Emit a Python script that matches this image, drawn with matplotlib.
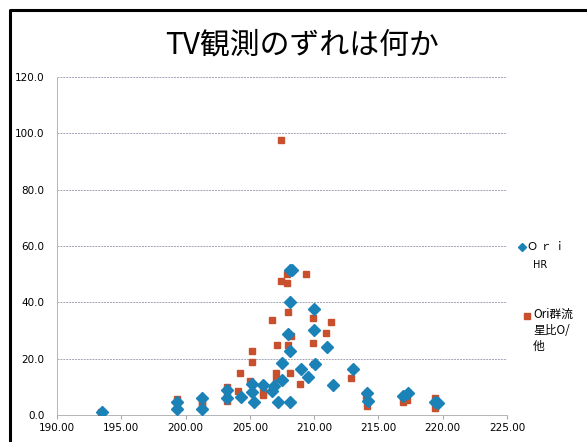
import matplotlib
matplotlib.use('Agg')
import matplotlib.pyplot as plt
from matplotlib.lines import Line2D

# Ori HR observations
hr_x = [193.5, 199.3, 199.3, 201.3, 201.3, 203.2, 203.2, 204.3, 205.2, 205.2,
        205.3, 206.0, 206.7, 206.9, 207.2, 207.5, 207.5, 208.1, 208.3, 208.1,
        208.0, 208.1, 208.1, 209.0, 209.5, 210.0, 210.0, 210.1, 211.0, 211.5,
        213.0, 214.1, 214.2, 216.9, 217.3, 219.4, 219.6]
hr_y = [1.0, 4.7, 2.2, 6.0, 2.2, 9.0, 6.2, 6.5, 11.0, 8.3,
        4.5, 10.8, 8.6, 10.2, 4.5, 18.4, 12.6, 51.4, 51.4, 40.2,
        28.7, 22.8, 4.5, 16.2, 13.4, 37.5, 30.1, 18.1, 24.0, 10.6,
        16.2, 7.9, 5.0, 6.7, 7.9, 4.7, 4.3]

# Ori meteor group ratio / others
grp_x = [193.4, 199.3, 199.3, 201.3, 201.3, 203.2, 203.2, 203.2, 204.2, 204.1,
         205.2, 205.2, 205.0, 206.0, 206.0, 206.7, 207.1, 207.0, 207.0, 207.4,
         207.4, 207.9, 207.9, 208.0, 208.2, 208.0, 208.1, 208.9, 209.4, 209.9,
         209.9, 210.0, 210.9, 211.3, 212.9, 214.0, 214.1, 217.2, 216.9, 219.4,
         219.4]
grp_y = [1.0, 5.7, 2.8, 4.7, 3.8, 10.0, 7.6, 4.9, 15.0, 8.5,
         22.7, 18.9, 12.2, 8.3, 7.1, 33.7, 24.8, 15.0, 12.9, 97.6,
         47.6, 46.7, 50.2, 36.7, 28.1, 24.7, 15.0, 11.0, 50.2, 34.3,
         25.6, 18.0, 29.2, 33.1, 13.0, 6.7, 3.2, 5.5, 4.5, 6.1,
         2.4]

x_ticks = [190, 195, 200, 205, 210, 215, 220, 225]
y_ticks = [0, 20, 40, 60, 80, 100, 120]

series_labels = ['Ｏ ｒ ｉ', 'Ori群流\n星比O/\n他']

blue = '#1b82b8'
red = '#c9502c'
tick_font = ['Liberation Sans Narrow', 'DejaVu Sans']
jp_font = ['Noto Sans CJK JP', 'DejaVu Sans']

fig = plt.figure(figsize=(5.87, 4.42), dpi=100)
ax = fig.add_axes([57 / 587, 1 - 415 / 442, 450 / 587, 338 / 442])

ax.plot(grp_x, grp_y, linestyle='none', marker='s', ms=4.8,
        color=red, mec=red, zorder=3)
ax.plot(hr_x, hr_y, linestyle='none', marker='D', ms=5.8,
        color=blue, mec=blue, zorder=4)

ax.set_xlim(190, 225)
ax.set_ylim(0, 120)
ax.set_xticks(x_ticks)
ax.set_yticks(y_ticks)
ax.set_xticklabels([f'{v:.2f}' for v in x_ticks], family=tick_font, fontsize=7.5)
ax.set_yticklabels([f'{v:.1f}' for v in y_ticks], family=tick_font, fontsize=7.5)
ax.tick_params(axis='x', length=3, color='#aaaaaa', pad=3)
ax.tick_params(axis='y', length=0, pad=9)

for y in y_ticks[1:]:
    ax.axhline(y, color='#a3a6b8', lw=0.7, ls=(0, (2, 1)), zorder=1)
for side in ['top', 'right']:
    ax.spines[side].set_visible(False)
for side in ['left', 'bottom']:
    ax.spines[side].set_color('#b5b5b5')
    ax.spines[side].set_linewidth(0.7)
    ax.spines[side].set_linestyle((0, (2, 1)))

fig.text(0.515, 1 - 45 / 442, 'TV観測のずれは何か', family=jp_font,
         fontsize=21.5, ha='center', va='center')

# legend drawn beside the plot
fig.add_artist(Line2D([522 / 587], [1 - 247 / 442], marker='D', ms=4.4,
                      color=blue, transform=fig.transFigure, linestyle='none'))
fig.text(527 / 587, 1 - 247 / 442, series_labels[0], family=jp_font,
         fontsize=8, va='center', ha='left')
fig.text(533 / 587, 1 - 265 / 442, 'HR', family=tick_font,
         fontsize=7, va='center', ha='left')
fig.add_artist(Line2D([527 / 587], [1 - 316 / 442], marker='s', ms=3.8,
                      color=red, transform=fig.transFigure, linestyle='none'))
fig.text(533 / 587, 1 - 308 / 442, series_labels[1], family=jp_font,
         fontsize=8.5, va='top', ha='left', linespacing=1.3)

# slide frame
fig.add_artist(Line2D([10 / 587, 10 / 587, 1.0], [0.0, 1 - 10 / 442, 1 - 10 / 442],
                      color='black', lw=2.2, transform=fig.transFigure))

fig.savefig('out.png', dpi=100, facecolor='white')
